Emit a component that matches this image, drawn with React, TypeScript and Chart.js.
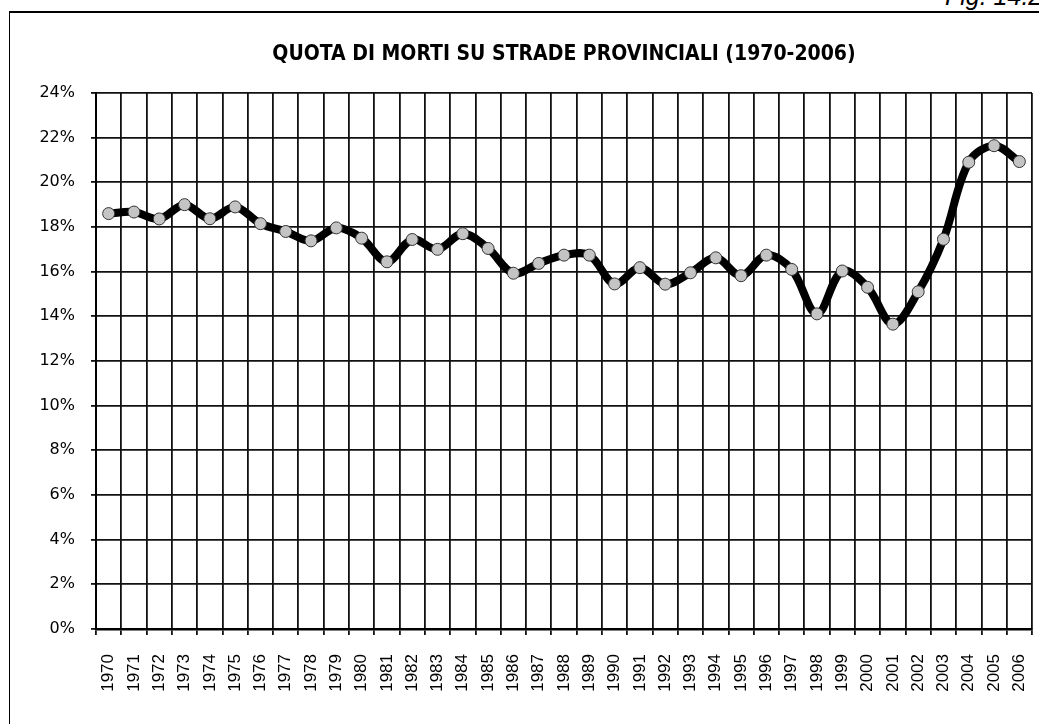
import React, { useEffect, useRef } from "react";
import { Chart, registerables } from "chart.js";

Chart.register(...registerables);

const years: string[] = [
  "1970", "1971", "1972", "1973", "1974", "1975", "1976", "1977", "1978", "1979",
  "1980", "1981", "1982", "1983", "1984", "1985", "1986", "1987", "1988", "1989",
  "1990", "1991", "1992", "1993", "1994", "1995", "1996", "1997", "1998", "1999",
  "2000", "2001", "2002", "2003", "2004", "2005", "2006",
];

const shares: number[] = [
  18.6, 18.67, 18.36, 19.0, 18.37, 18.9, 18.15, 17.8, 17.38, 17.96,
  17.5, 16.44, 17.44, 17.0, 17.7, 17.04, 15.93, 16.37, 16.74, 16.74,
  15.45, 16.18, 15.44, 15.95, 16.62, 15.82, 16.74, 16.1, 14.11, 16.03,
  15.3, 13.65, 15.1, 17.45, 20.9, 21.64, 20.93,
];

const yMin = 0;
const yMax = 24;
const yStep = 2;

const titleText = "QUOTA DI MORTI SU STRADE PROVINCIALI (1970-2006)";
const figLabel = "Fig. 14.2";

export default function App() {
  const canvasRef = useRef<HTMLCanvasElement | null>(null);

  useEffect(() => {
    const canvas = canvasRef.current;
    if (!canvas) return;
    const chart = new Chart(canvas, {
      type: "line",
      data: {
        labels: years,
        datasets: [
          {
            data: shares,
            borderColor: "#000",
            borderWidth: 8,
            tension: 0.35,
            pointRadius: 6,
            pointBackgroundColor: "#c4c4c4",
            pointBorderColor: "#333",
            pointBorderWidth: 1,
            fill: false,
          },
        ],
      },
      options: {
        responsive: false,
        animation: false,
        layout: { padding: { left: 0, right: 7, top: 0, bottom: 0 } },
        plugins: {
          legend: { display: false },
          tooltip: { enabled: false },
          title: {
            display: true,
            text: titleText,
            fullSize: false,
            color: "#000",
            font: {
              family: '"DejaVu Sans Condensed", "DejaVu Sans", sans-serif',
              size: 21,
              weight: "bold",
              lineHeight: 1.2,
            },
            padding: { top: 42.4, bottom: 25.4 },
          },
        },
        scales: {
          x: {
            offset: true,
            grid: {
              offset: true,
              color: "#111",
              lineWidth: 1.8,
              tickLength: 6,
              drawTicks: true,
            },
            border: { display: true, color: "#000", width: 2.5 },
            ticks: {
              autoSkip: false,
              maxRotation: 90,
              minRotation: 90,
              padding: 19,
              color: "#000",
              font: { family: '"Liberation Sans", Arial, sans-serif', size: 17 },
            },
            afterFit: (scale: any) => {
              scale.height = 95;
              scale.paddingLeft = 0;
              scale.paddingRight = 0;
            },
          },
          y: {
            min: yMin,
            max: yMax,
            grid: {
              color: "#111",
              lineWidth: 1.8,
              tickLength: 5,
            },
            border: { display: true, color: "#000", width: 2 },
            ticks: {
              stepSize: yStep,
              padding: 16,
              color: "#000",
              font: { family: '"DejaVu Sans", sans-serif', size: 16 },
              callback: (v: any) => `${v}%`,
            },
            afterFit: (scale: any) => {
              scale.width = 96;
            },
          },
        },
      },
    });
    return () => chart.destroy();
  }, []);

  return (
    <div
      style={{
        position: "fixed",
        left: 0,
        top: 0,
        width: 1039,
        height: 724,
        overflow: "hidden",
        background: "#fff",
      }}
    >
      <div
        style={{
          position: "absolute",
          left: 9,
          top: 11,
          width: 1100,
          height: 800,
          borderLeft: "1.5px solid #000",
          borderTop: "2px solid #000",
        }}
      />
      <div
        style={{
          position: "absolute",
          left: 945,
          top: -16,
          fontFamily: '"Liberation Sans", Arial, sans-serif',
          fontStyle: "italic",
          fontSize: 25,
          lineHeight: "25px",
          whiteSpace: "nowrap",
          color: "#000",
        }}
      >
        {figLabel}
      </div>
      <canvas
        ref={canvasRef}
        width={1039}
        height={724}
        style={{ position: "absolute", left: 0, top: 0, width: 1039, height: 724 }}
      />
    </div>
  );
}
